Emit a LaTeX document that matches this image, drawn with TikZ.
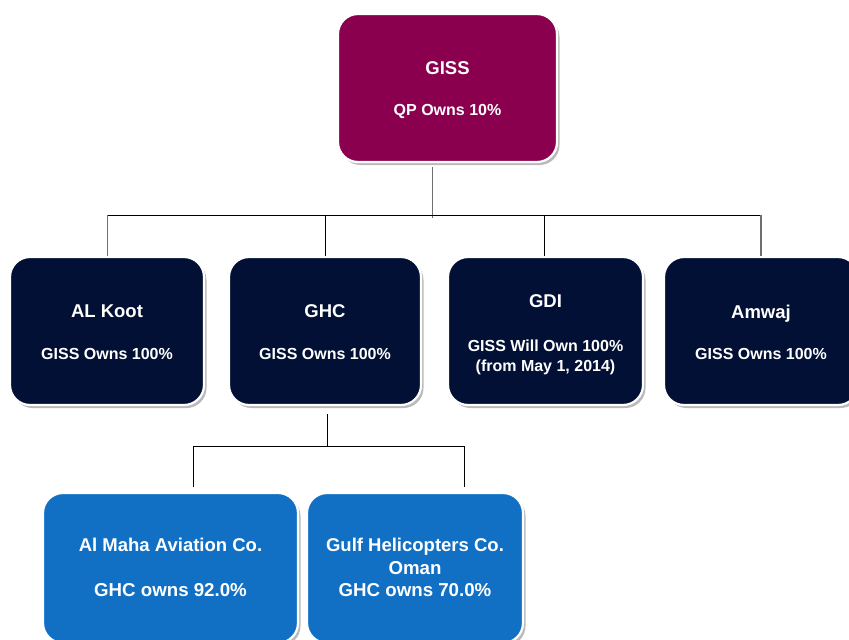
\documentclass[tikz,border=0pt]{standalone}
\usepackage{fontspec}
\setmainfont{Liberation Sans}
\usetikzlibrary{shadows}
\definecolor{gissred}{RGB}{139,0,78}
\definecolor{darknavy}{RGB}{1,16,52}
\definecolor{midblue}{RGB}{17,112,196}
\definecolor{linegray}{RGB}{110,110,110}
\tikzset{
  box/.style={rectangle, rounded corners=20pt, draw=white, line width=2.2pt,
    drop shadow={shadow xshift=2.5pt, shadow yshift=-3pt, opacity=0.45, fill=black!60},
    inner sep=0pt},
  topbox/.style={box, fill=gissred, minimum width=219pt, minimum height=148pt},
  midbox/.style={box, fill=darknavy, minimum width=194pt, minimum height=148pt},
  lowbox/.style={box, fill=midblue, minimum height=150pt},
  ttl/.style={anchor=base, text=white, font=\bfseries\fontsize{18.5}{22}\selectfont, inner sep=0pt},
  sub/.style={anchor=base, text=white, font=\bfseries\fontsize{16}{20}\selectfont, inner sep=0pt},
  subbig/.style={anchor=base, text=white, font=\bfseries\fontsize{18.7}{22}\selectfont, inner sep=0pt},
  conn/.style={draw=black, line width=0.9pt},
  conng/.style={draw=linegray, line width=1.1pt}
}
\begin{document}
\begin{tikzpicture}[x=1pt,y=-1pt]
\useasboundingbox (0,0) rectangle (849,640);
\clip (0,0) rectangle (849,640);
\fill[white] (0,0) rectangle (849,640);

% boxes
\node[topbox] (giss) at (447.5,88) {};
\node[midbox] (alkoot) at (107,331) {};
\node[midbox, minimum width=192pt] (ghc) at (325,331) {};
\node[midbox, minimum width=195pt] (gdi) at (545.5,331) {};
\node[midbox] (amwaj) at (761,331) {};
\node[lowbox, minimum width=255pt] (almaha) at (170.5,568) {};
\node[lowbox, minimum width=216pt] (gulf) at (415,568) {};

% texts
\node[ttl] (t1) at (447.5,74.5) {GISS};
\node[sub] (s1) at (447.5,115.5) {QP Owns 10\%};
\node[ttl] (t2) at (107,317.5) {AL Koot};
\node[sub] (s2) at (107,359.5) {GISS Owns 100\%};
\node[ttl] (t3) at (325,317.5) {GHC};
\node[sub] (s3) at (325,359.5) {GISS Owns 100\%};
\node[ttl] (t4) at (545.5,307) {GDI};
\node[sub] (s4a) at (545.5,351.5) {GISS Will Own 100\%};
\node[sub] (s4b) at (545.5,371) {(from May 1, 2014)};
\node[ttl] (t5) at (761,318) {Amwaj};
\node[sub] (s5) at (761,359.5) {GISS Owns 100\%};
\node[ttl] (t6) at (170.5,551.5) {Al Maha Aviation Co.};
\node[subbig] (s6) at (170.5,596.5) {GHC owns 92.0\%};
\node[ttl] (t7) at (415,551.5) {Gulf Helicopters Co.};
\node[subbig] (s7a) at (415,574) {Oman};
\node[subbig] (s7b) at (415,596.5) {GHC owns 70.0\%};

% connectors from GISS
\coordinate (j0) at (432.7,218);
\coordinate (hL) at (107.7,215);
\coordinate (hR) at (761,215);
\coordinate (d2) at (325.7,215);
\coordinate (d3) at (544,215);
\draw[conng] (giss.south -| j0) ++(0,4) -- (j0);
\draw[conn] (hL) -- (hR);
\draw[conng] (hL) -- (hL |- alkoot.north);
\draw[conn] (d2) -- (d2 |- ghc.north);
\draw[conn] (d3) -- (d3 |- gdi.north);
\draw[conng] (hR) -- (hR |- amwaj.north);

% connectors from GHC
\coordinate (k0) at (327.3,446);
\coordinate (kL) at (193,446);
\coordinate (kR) at (464,446);
\draw[conn] (ghc.south -| k0) ++(0,8) -- (k0);
\draw[conn] (kL) -- (kR);
\draw[conn] (kL) -- ([yshift=5pt]kL |- almaha.north);
\draw[conn] (kR) -- ([yshift=5pt]kR |- gulf.north);
\end{tikzpicture}
\end{document}
